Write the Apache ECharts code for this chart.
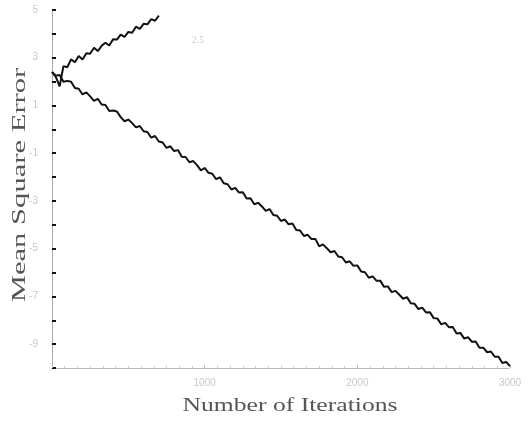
<!DOCTYPE html>
<html>
<head>
<meta charset="utf-8">
<script src="https://cdn.jsdelivr.net/npm/echarts@6/dist/echarts.min.js"></script>
<style>
  html, body { margin: 0; padding: 0; background: #fff; }
  #chart { width: 529px; height: 428px; }
</style>
</head>
<body>
<div id="chart"></div>
<script>
// iterations between samples
const step = 25;

// converging run (MSE falls), one value every 25 iterations
const mseDown = [
  2.40, 2.25, 2.28, 1.99, 2.03, 1.99, 1.73, 1.70, 1.46, 1.55,
  1.38, 1.19, 1.28, 1.04, 1.02, 0.77, 0.79, 0.75, 0.51, 0.34,
  0.41, 0.26, 0.08, 0.14, -0.08, -0.11, -0.35, -0.28, -0.51, -0.55,
  -0.78, -0.71, -0.91, -0.87, -1.15, -1.16, -1.38, -1.33, -1.50, -1.72,
  -1.62, -1.82, -1.86, -2.09, -2.01, -2.26, -2.30, -2.52, -2.45, -2.65,
  -2.64, -2.90, -2.89, -3.14, -3.08, -3.23, -3.42, -3.34, -3.59, -3.62,
  -3.84, -3.78, -3.98, -3.95, -4.22, -4.24, -4.47, -4.42, -4.60, -4.59,
  -4.90, -4.82, -4.98, -5.15, -5.10, -5.33, -5.36, -5.58, -5.53, -5.72,
  -5.70, -5.96, -5.99, -6.22, -6.16, -6.34, -6.34, -6.60, -6.58, -6.82,
  -6.77, -6.93, -7.10, -7.03, -7.29, -7.31, -7.53, -7.47, -7.67, -7.66,
  -7.91, -7.93, -8.17, -8.11, -8.29, -8.28, -8.55, -8.53, -8.77, -8.71,
  -8.90, -8.89, -9.15, -9.15, -9.34, -9.31, -9.53, -9.53, -9.79, -9.75,
  -9.92
];

// diverging run (MSE grows), one value every 25 iterations
const mseUp = [
  2.40, 2.20, 1.80, 2.65, 2.60, 2.93, 2.81, 3.07, 2.93, 3.19,
  3.17, 3.42, 3.28, 3.50, 3.63, 3.51, 3.77, 3.76, 3.97, 3.87,
  4.08, 4.05, 4.30, 4.21, 4.42, 4.40, 4.62, 4.55, 4.76
];

const xTicks = [0, 1000, 2000, 3000];
const yLabelValues = [5, 3, 1, -1, -3, -5, -7, -9];

function toPairs(arr) {
  return arr.map((v, i) => [i * step, v]);
}

const chart = echarts.init(document.getElementById('chart'));

const option = {
  animation: false,
  backgroundColor: '#fff',
  grid: { left: 52, right: 19, top: 10, bottom: 60 },
  xAxis: {
    type: 'value',
    min: xTicks[0],
    max: xTicks[xTicks.length - 1],
    interval: 1000,
    axisLine: { show: true, onZero: false, lineStyle: { color: '#aaa', type: 'dotted', width: 1 } },
    axisTick: { show: true, inside: true, length: 3, lineStyle: { color: '#bbb' } },
    minorTick: { show: true, splitNumber: 12, length: 2, lineStyle: { color: '#ccc' } },
    splitLine: { show: false },
    axisLabel: {
      color: '#c8c8c8', fontSize: 10, margin: 10,
      formatter: v => (v === 0 ? '' : String(v))
    }
  },
  yAxis: {
    type: 'value',
    min: -10,
    max: 5,
    interval: 1,
    axisLine: { show: true, lineStyle: { color: '#999', type: 'dotted', width: 1 } },
    axisTick: { show: true, inside: true, length: 4, lineStyle: { color: '#111', width: 2 } },
    splitLine: { show: false },
    axisLabel: {
      color: '#c8c8c8', fontSize: 10, margin: 14,
      formatter: v => (yLabelValues.indexOf(v) >= 0 ? String(v) : '')
    }
  },
  series: [
    {
      type: 'line',
      data: toPairs(mseDown),
      showSymbol: false,
      lineStyle: { color: '#111', width: 2 }
    },
    {
      type: 'line',
      data: toPairs(mseUp),
      showSymbol: false,
      lineStyle: { color: '#111', width: 2 }
    }
  ],
  graphic: [
    {
      type: 'text',
      x: 290, y: 406,
      scaleX: 1.35,
      style: {
        text: 'Number of Iterations',
        font: '19px "Liberation Serif", serif',
        fill: '#555',
        align: 'center',
        verticalAlign: 'middle'
      }
    },
    {
      type: 'text',
      x: 20, y: 185,
      rotation: Math.PI / 2,
      scaleX: 1.7,
      style: {
        text: 'Mean Square Error',
        font: '18px "Liberation Serif", serif',
        fill: '#555',
        align: 'center',
        verticalAlign: 'middle'
      }
    },
    {
      type: 'text',
      x: 198, y: 40,
      style: {
        text: '2.5',
        font: '10px "Liberation Serif", serif',
        fill: '#cfcfcf',
        align: 'center',
        verticalAlign: 'middle'
      }
    }
  ]
};

chart.setOption(option);
</script>
</body>
</html>
